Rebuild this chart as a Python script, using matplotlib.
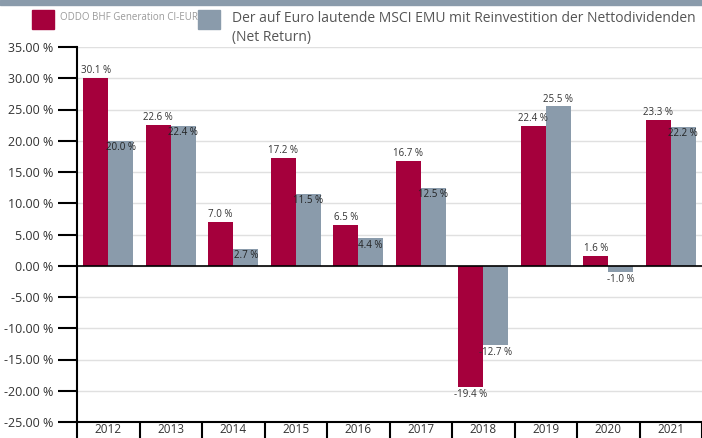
import matplotlib
matplotlib.use("Agg")
import matplotlib.pyplot as plt
import numpy as np
from matplotlib.patches import Rectangle

years = ["2012", "2013", "2014", "2015", "2016", "2017", "2018", "2019", "2020", "2021"]
fund = [30.1, 22.6, 7.0, 17.2, 6.5, 16.7, -19.4, 22.4, 1.6, 23.3]
bench = [20.0, 22.4, 2.7, 11.5, 4.4, 12.5, -12.7, 25.5, -1.0, 22.2]
fund_name = "ODDO BHF Generation CI-EUR"
bench_name = "Der auf Euro lautende MSCI EMU mit Reinvestition der Nettodividenden"
bench_name2 = "(Net Return)"
yticks = [35, 30, 25, 20, 15, 10, 5, 0, -5, -10, -15, -20, -25]

RED = "#a5003c"
GRAY = "#8a9bab"

plt.rcParams['font.family'] = ['Open Sans', 'DejaVu Sans']

W, H = 702, 438
fig = plt.figure(figsize=(W / 100, H / 100), dpi=100)
ax = fig.add_axes([77 / W, 1 - 422 / H, 1 - 77 / W, (422 - 47) / H])

x = np.arange(len(years))
bw = 0.4
ax.bar(x - bw / 2, fund, bw, color=RED, zorder=3)
ax.bar(x + bw / 2, bench, bw, color=GRAY, zorder=3)

ax.set_xlim(-0.5, len(years) - 0.5)
ax.set_ylim(-25, 35)
ax.set_yticks(yticks)
ax.set_yticklabels([f"{v:.2f} %" for v in yticks], fontsize=9, color="#333333")
ax.tick_params(axis='y', length=14, width=1.5, color="black", pad=3)
ax.grid(axis='y', color="#e0e0e0", linewidth=1, zorder=0)
ax.axhline(0, color="black", linewidth=1.2, zorder=4)

ax.set_xticks(x)
ax.set_xticklabels(years, fontsize=8.5, color="#333333")
ax.set_xticks(np.arange(-0.5, len(years), 1.0), minor=True)
ax.tick_params(axis='x', which='major', length=0, pad=1)
ax.tick_params(axis='x', which='minor', length=14, width=1.5, color="black", direction='out')

for s in ["top", "right"]:
    ax.spines[s].set_visible(False)
ax.spines["left"].set_linewidth(1.5)
ax.spines["bottom"].set_linewidth(1.5)

def lab(xp, v, other=None):
    txt = f"{v:.1f} %"
    if v >= 0:
        if other is not None and other > v - 1.5 and other >= v:
            ax.text(xp, v - 0.2, txt, ha='center', va='top', fontsize=7, color="#222222", zorder=5)
        else:
            ax.text(xp, v + 0.3, txt, ha='center', va='bottom', fontsize=7, color="#333333", zorder=5)
    else:
        ax.text(xp, v - 0.3, txt, ha='center', va='top', fontsize=7, color="#333333", zorder=5)

for i in range(len(years)):
    lab(x[i] - bw / 2, fund[i])
    lab(x[i] + bw / 2, bench[i], fund[i])

# top band
fig.patches.append(Rectangle((0, 1 - 5 / H), 1, 5 / H, transform=fig.transFigure,
                             color=GRAY, zorder=0))
# legend
fig.patches.append(Rectangle((32 / W, 1 - 29 / H), 22 / W, 19 / H, transform=fig.transFigure,
                             color=RED, zorder=5))
fig.patches.append(Rectangle((198 / W, 1 - 29 / H), 22 / W, 19 / H, transform=fig.transFigure,
                             color=GRAY, zorder=5))
fig.text(60 / W, 1 - 18 / H, fund_name, fontsize=7, color="#9a9a9a", va='center', ha='left')
fig.text(232 / W, 1 - 18 / H, bench_name, fontsize=10, color="#555555", va='center', ha='left')
fig.text(232 / W, 1 - 38 / H, bench_name2, fontsize=10, color="#555555", va='center', ha='left')

fig.savefig("out.png", dpi=100)
